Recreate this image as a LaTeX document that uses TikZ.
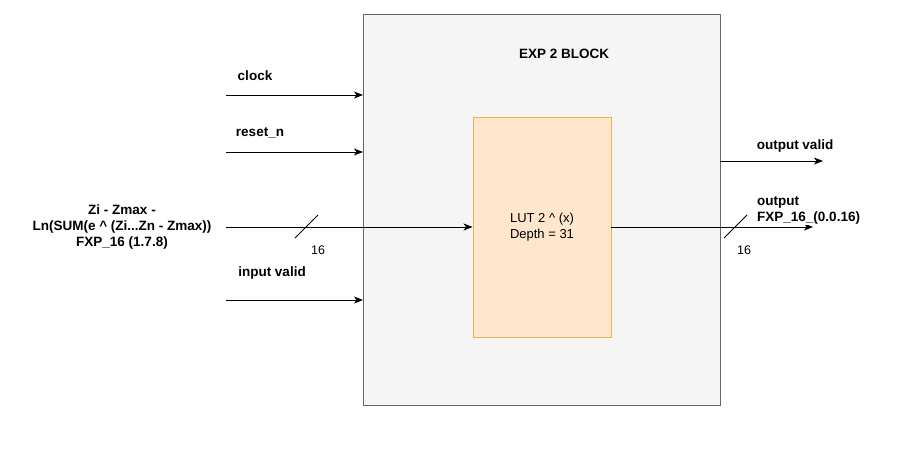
\documentclass[tikz,border=0pt]{standalone}
\usepackage{fontspec}
\setmainfont{Liberation Sans}
\usetikzlibrary{arrows.meta}
\definecolor{blkfill}{HTML}{F5F5F5}
\definecolor{blkline}{HTML}{666666}
\definecolor{lutfill}{HTML}{FFE6CC}
\definecolor{lutline}{HTML}{E6B64E}
\begin{document}
\begin{tikzpicture}[x=1pt,y=-1pt,
  lbl/.style={font=\fontsize{13.5}{15}\selectfont\bfseries, inner sep=1pt},
  sig/.style={draw=black, line width=0.9pt, -{Stealth[length=9pt,width=7pt,inset=2.5pt]}},
  slash/.style={draw=black, line width=0.8pt},
  num/.style={font=\fontsize{12.5}{14}\selectfont, inner sep=0pt}]
\useasboundingbox (0,0) rectangle (909,448);
\node[draw=blkline, fill=blkfill, line width=0.9pt, minimum width=357pt, minimum height=391pt, inner sep=0pt] (blk) at (541.5,209.5) {};
\node[draw=lutline, fill=lutfill, line width=0.9pt, minimum width=138pt, minimum height=220pt, inner sep=0pt, align=center, font=\fontsize{13}{16}\selectfont] (lut) at (542,227) {LUT 2 \^{} (x)\\Depth = 31};
\node[lbl] (title) at (564,54) {EXP 2 BLOCK};
% inputs
\coordinate (c0) at (226,95);
\coordinate (r0) at (226,152);
\coordinate (z0) at (226,227);
\coordinate (v0) at (226,300);
\coordinate (c1) at (363,95);
\coordinate (r1) at (363,152);
\coordinate (v1) at (363,300);
\draw[sig] (c0) -- (c1);
\draw[sig] (r0) -- (r1);
\draw[sig] (v0) -- (v1);
\draw[sig] (z0) -- (lut.west);
\node[lbl] (clk) at (255,76) {clock};
\node[lbl] (rst) at (260,133) {reset\_n};
\node[lbl] (ivl) at (272,273) {input valid};
\node[lbl, align=center, font=\fontsize{13.5}{16}\selectfont\bfseries] (zin) at (122,227) {Zi - Zmax -\\Ln(SUM(e \^{} (Zi...Zn - Zmax))\\FXP\_16 (1.7.8)};
\coordinate (s1a) at (295,238);
\coordinate (s1b) at (318,215);
\draw[slash] (s1a) -- (s1b);
\node[num] (n1) at (318,250) {16};
% outputs
\coordinate (ov0) at (720,161);
\coordinate (ov1) at (823,161);
\draw[sig] (ov0) -- (ov1);
\node[lbl] (ovl) at (795,146) {output valid};
\coordinate (o1) at (813,227);
\draw[sig] (lut.east) -- (o1);
\node[lbl, fill=white, align=left, anchor=west, font=\fontsize{13.5}{16}\selectfont\bfseries] (olbl) at (756,210) {output\\FXP\_16\_(0.0.16)};
\coordinate (s2a) at (724,238);
\coordinate (s2b) at (747,215);
\draw[slash] (s2a) -- (s2b);
\node[num] (n2) at (744,250) {16};
\end{tikzpicture}
\end{document}
